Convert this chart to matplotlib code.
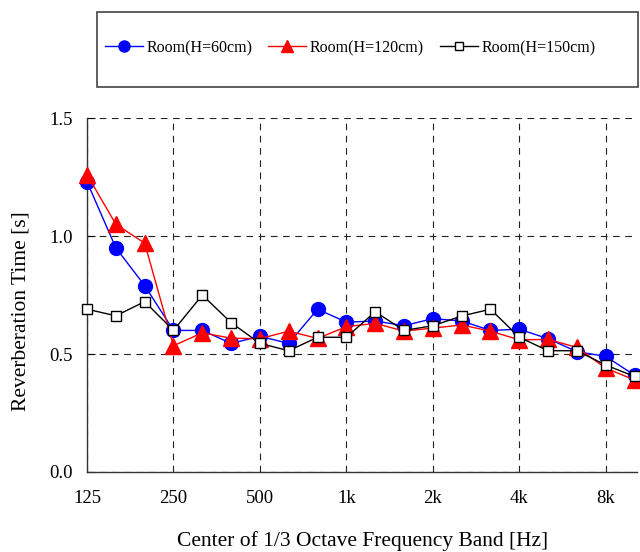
import matplotlib
matplotlib.use("Agg")
import matplotlib.pyplot as plt
from matplotlib.patches import Rectangle

plt.rcParams["font.family"] = ["Liberation Serif", "DejaVu Serif"]

# 1/3 octave band centres, 125 Hz .. 10 kHz
bands = ["125", "160", "200", "250", "315", "400", "500", "630", "800", "1k",
         "1.25k", "1.6k", "2k", "2.5k", "3.15k", "4k", "5k", "6.3k", "8k", "10k"]
tick_bands = ["125", "250", "500", "1k", "2k", "4k", "8k"]

rt_h60 = [1.23, 0.95, 0.79, 0.60, 0.60, 0.545, 0.575, 0.545, 0.69, 0.635,
          0.64, 0.62, 0.65, 0.64, 0.60, 0.605, 0.565, 0.51, 0.49, 0.41]
rt_h120 = [1.26, 1.05, 0.97, 0.535, 0.59, 0.567, 0.565, 0.597, 0.566, 0.616,
           0.63, 0.597, 0.61, 0.623, 0.597, 0.56, 0.562, 0.528, 0.44, 0.39]
rt_h150 = [0.69, 0.662, 0.722, 0.60, 0.75, 0.633, 0.545, 0.514, 0.571, 0.571,
           0.679, 0.60, 0.62, 0.661, 0.69, 0.571, 0.514, 0.514, 0.453, 0.405]

x = list(range(len(bands)))

fig = plt.figure(figsize=(6.4, 5.52), dpi=100)
ax = fig.add_axes([0.136, 0.145, 0.86, 0.641])

ax.plot(x, rt_h60, color="#0000ff", lw=1.0, marker="o", ms=10,
        mfc="#0000ff", mec="#0000ff", label="Room(H=60cm)", zorder=3)
ax.plot(x, rt_h120, color="#ff0000", lw=1.0, marker="^", ms=11,
        mfc="#ff0000", mec="#ff0000", label="Room(H=120cm)", zorder=3)
ax.plot(x, rt_h150, color="black", lw=1.0, marker="s", ms=7.5,
        mfc="white", mec="black", mew=1.0, label="Room(H=150cm)", zorder=4)
for line in ax.lines:
    line.set_clip_on(False)

ax.set_xlim(0, 19.1)
ax.set_ylim(0, 1.5)
ax.set_xticks([bands.index(b) for b in tick_bands])
ax.set_xticklabels(tick_bands)
ax.set_yticks([0.0, 0.5, 1.0, 1.5])
ax.set_yticklabels(["0.0", "0.5", "1.0", "1.5"])
ax.tick_params(axis="x", length=0, pad=13, labelsize=13.5)
ax.tick_params(axis="y", direction="in", length=6, pad=10, labelsize=13.5)

for s in ["top", "right"]:
    ax.spines[s].set_visible(False)
for s in ["left", "bottom"]:
    ax.spines[s].set_color("#333333")
    ax.spines[s].set_linewidth(1.0)

ax.grid(True, color="#222222", ls=(0, (6, 5)), lw=0.8)
ax.set_axisbelow(True)

ax.set_ylabel("Reverberation Time [s]", fontsize=15.5)
ax.yaxis.set_label_coords(-0.103, 0.455)
ax.set_xlabel("Center of 1/3 Octave Frequency Band [Hz]", fontsize=15.5)
ax.xaxis.set_label_coords(0.5, -0.166)

# legend frame
fig.patches.append(Rectangle((97 / 640, 1 - 87 / 552), 541 / 640, 75 / 552,
                             transform=fig.transFigure, fill=False,
                             edgecolor="#444444", lw=1.2))
handles, labels = ax.get_legend_handles_labels()
fig.legend(handles, labels, loc="center", ncol=3,
           bbox_to_anchor=(350 / 640, 1 - 48 / 552), frameon=False,
           fontsize=11.5, handlelength=2.4, handletextpad=0.2,
           columnspacing=1.0, markerscale=0.8)

fig.savefig("out.png", dpi=100)
